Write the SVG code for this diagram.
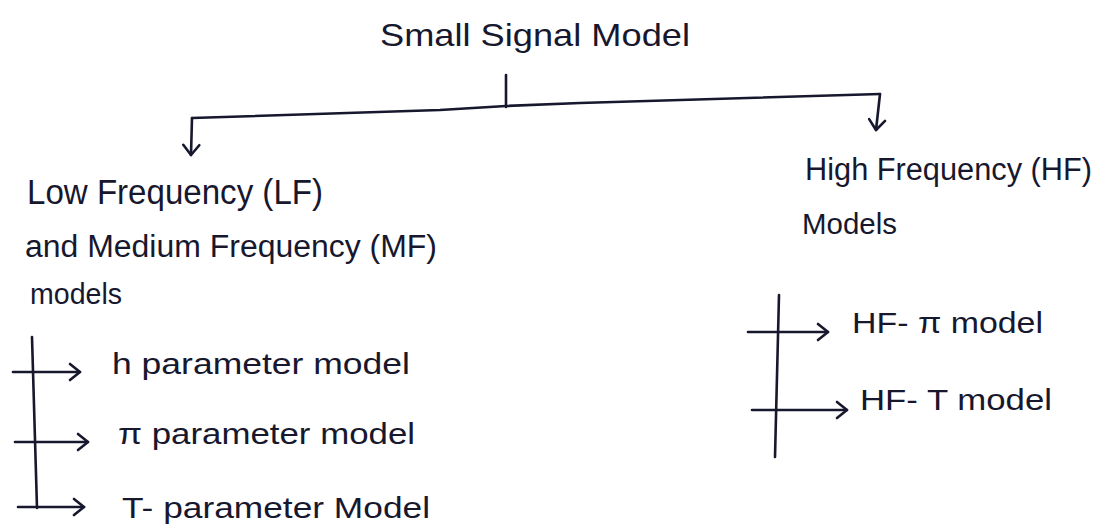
<svg xmlns="http://www.w3.org/2000/svg" width="1097" height="525" viewBox="0 0 1097 525">
  <style>
    .ink { fill: none; stroke: #17172e; stroke-width: 2.6; stroke-linecap: round; stroke-linejoin: round; }
    .label { fill: #17172e; font-family: "Liberation Sans", "DejaVu Sans", sans-serif; }
  </style>
  <defs>
    <marker id="open-arrow" markerUnits="userSpaceOnUse" markerWidth="24" markerHeight="24" refX="12" refY="12" orient="auto">
      <path d="M2 4 L12 12 L2 20" fill="none" stroke="#17172e" stroke-width="2.6" stroke-linecap="round" stroke-linejoin="round"/>
    </marker>
  </defs>
  <rect width="1097" height="525" fill="#ffffff"/>

  <!-- tree connectors -->
  <g id="connectors" class="ink">
    <path d="M506 75 L506 107"/>
    <path d="M192 118 L440 110 L506 106 L580 103 L880 94"/>
    <path d="M192 118 L191 155" marker-end="url(#open-arrow)"/>
    <path d="M880 94 L876 130" marker-end="url(#open-arrow)"/>
    <!-- low / medium frequency list -->
    <path d="M32 337 L37 508"/>
    <path d="M13 372 L80 372" marker-end="url(#open-arrow)"/>
    <path d="M15 442 L88 442" marker-end="url(#open-arrow)"/>
    <path d="M18 507 L84 507" marker-end="url(#open-arrow)"/>
    <!-- high frequency list -->
    <path d="M779 295 L775 457"/>
    <path d="M748 332 L828 332" marker-end="url(#open-arrow)"/>
    <path d="M752 410 L847 410" marker-end="url(#open-arrow)"/>
  </g>

  <g id="root">
    <text class="label" x="380" y="46" font-size="32" textLength="310" lengthAdjust="spacingAndGlyphs">Small Signal Model</text>
  </g>

  <g id="lf-mf-models">
    <text class="label" x="27" y="204" font-size="35" textLength="296" lengthAdjust="spacingAndGlyphs">Low Frequency (LF)</text>
    <text class="label" x="25" y="257" font-size="31" textLength="412" lengthAdjust="spacingAndGlyphs">and Medium Frequency (MF)</text>
    <text class="label" x="30" y="304" font-size="30" textLength="92" lengthAdjust="spacingAndGlyphs">models</text>
  </g>

  <g id="hf-models">
    <text class="label" x="805" y="180" font-size="31" textLength="287" lengthAdjust="spacingAndGlyphs">High Frequency (HF)</text>
    <text class="label" x="802" y="234" font-size="30" textLength="95" lengthAdjust="spacingAndGlyphs">Models</text>
  </g>

  <g id="h-parameter-model">
    <text class="label" x="112" y="374" font-size="30" textLength="298" lengthAdjust="spacingAndGlyphs">h parameter model</text>
  </g>
  <g id="pi-parameter-model">
    <text class="label" x="118" y="444" font-size="30" textLength="297" lengthAdjust="spacingAndGlyphs">π parameter model</text>
  </g>
  <g id="t-parameter-model">
    <text class="label" x="122" y="518" font-size="30" textLength="308" lengthAdjust="spacingAndGlyphs">T- parameter Model</text>
  </g>

  <g id="hf-pi-model">
    <text class="label" x="852" y="333" font-size="30" textLength="191" lengthAdjust="spacingAndGlyphs">HF- π model</text>
  </g>
  <g id="hf-t-model">
    <text class="label" x="860" y="410" font-size="30" textLength="192" lengthAdjust="spacingAndGlyphs">HF- T model</text>
  </g>
</svg>
